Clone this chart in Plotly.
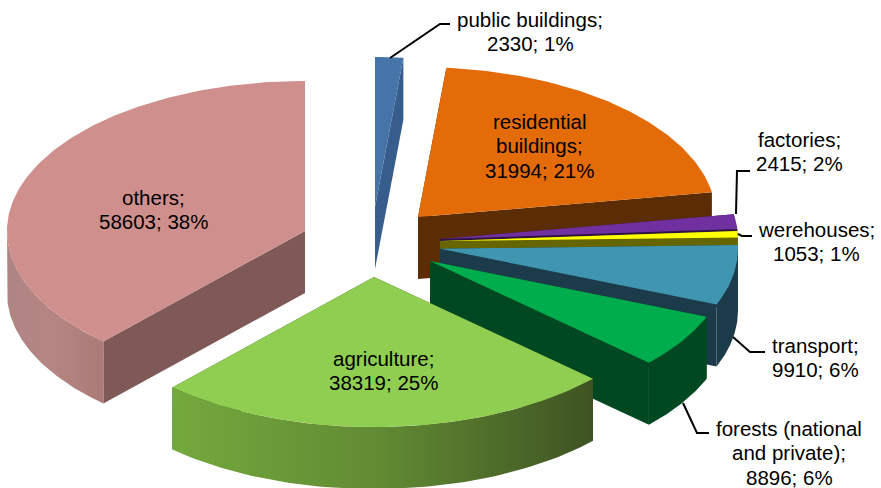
import numpy as np
import plotly.graph_objects as go

# --- data ---
categories = ["public buildings", "residential buildings", "factories", "werehouses",
              "transport", "forests (national and private)", "agriculture", "others"]
values = [2330, 31994, 2415, 1053, 9910, 8896, 38319, 58603]
percents = [1, 21, 2, 1, 6, 6, 25, 38]

# --- pie styling ---
label_lines = [
    ["public buildings;", "{v}; {p}%"],
    ["residential", "buildings;", "{v}; {p}%"],
    ["factories;", "{v}; {p}%"],
    ["werehouses;", "{v}; {p}%"],
    ["transport;", "{v}; {p}%"],
    ["forests (national", "and private);", "{v}; {p}%"],
    ["agriculture;", "{v}; {p}%"],
    ["others;", "{v}; {p}%"],
]
label_pos = [(530, 19), (539, 121), (799, 139), (816, 229), (815, 345), (789, 428), (383, 358), (153, 197)]
apex_x = [375, 418, 440, 440, 440, 430, 374, 305]
apex_y = [207, 217, 239, 241, 248.7, 261, 277, 231]
top_colors = ["#4673a8", "#e36c09", "#7030a0", "#ffff00", "#4095b0", "#00ad4c", "#8fce50", "#cf8f8c"]
side_colors = ["#375d8c", "#5c2c04", "#2e1342", "#666600", "#1b3b4a", "#004822", "#3e5322", "#7f5957"]
wall_gradients = {
    6: [[0, "#74a93d"], [0.5, "#618a33"], [1, "#3e5322"]],
    7: [[0, "#ae8583"], [0.5, "#b58583"], [1, "#ab7a77"]],
}
RX, RY, DEPTH = 298, 150, 62
LINE_HEIGHT = 24.5
FONT = "Liberation Sans, Arial, sans-serif"
FONT_SIZE = 20.5

leaders = [
    ([390, 440, 450], [58, 24, 24]),
    ([736, 737, 750], [214, 171, 171]),
    ([738, 742, 752], [234, 236, 236]),
    ([733, 750, 765], [337, 352, 352]),
    ([683, 697, 709], [403, 433, 433]),
]


def rim(i, theta):
    return apex_x[i] + RX * np.sin(theta), apex_y[i] - RY * np.cos(theta)


total = sum(values)
edges = np.concatenate([[0], np.cumsum(values)]) / total * 2 * np.pi
fig = go.Figure()


def poly(x, y, color=None, gradient=None):
    kw = dict(fillgradient=dict(type="horizontal", colorscale=gradient)) if gradient else dict(fillcolor=color)
    fig.add_trace(go.Scatter(x=list(x), y=list(y), mode="lines", fill="toself",
                             line=dict(width=0), hoverinfo="skip", showlegend=False, **kw))


draw_order = [0, 1, 2, 3, 4, 5, 7, 6]
for i in draw_order:
    a0, a1 = edges[i], edges[i + 1]
    ax, ay = apex_x[i], apex_y[i]
    # radial side faces
    for a in (a0, a1):
        rx, ry = rim(i, a)
        poly([ax, rx, rx, ax, ax], [ay, ry, ry + DEPTH, ay + DEPTH, ay], side_colors[i])
    # outer wall, only the part facing the viewer
    lo, hi = max(a0, np.pi / 2), min(a1, 3 * np.pi / 2)
    if hi > lo:
        t = np.linspace(lo, hi, 80)
        wx, wy = rim(i, t)
        poly(np.r_[wx, wx[::-1], wx[0]], np.r_[wy, wy[::-1] + DEPTH, wy[0]],
             side_colors[i], wall_gradients.get(i))
    # top face
    t = np.linspace(a0, a1, max(8, int((a1 - a0) * 60)))
    tx, ty = rim(i, t)
    poly(np.r_[ax, tx, ax], np.r_[ay, ty, ay], top_colors[i])

for lx, ly in leaders:
    fig.add_trace(go.Scatter(x=lx, y=ly, mode="lines", line=dict(color="#000000", width=2),
                             hoverinfo="skip", showlegend=False))

for i, lines in enumerate(label_lines):
    cx, cy = label_pos[i]
    for k, line in enumerate(lines):
        fig.add_annotation(x=cx, y=cy + k * LINE_HEIGHT, xref="x", yref="y", showarrow=False,
                           text=line.format(v=values[i], p=percents[i]),
                           font=dict(family=FONT, size=FONT_SIZE, color="#000000"),
                           xanchor="center", yanchor="middle")

fig.update_layout(
    width=881, height=488, margin=dict(l=0, r=0, t=0, b=0),
    paper_bgcolor="#ffffff", plot_bgcolor="#ffffff", showlegend=False,
    xaxis=dict(range=[0, 881], visible=False, fixedrange=True),
    yaxis=dict(range=[488, 0], visible=False, fixedrange=True),
)
fig.write_html("out.html", post_script="document.body.style.margin='0';", config={"displayModeBar": False})
